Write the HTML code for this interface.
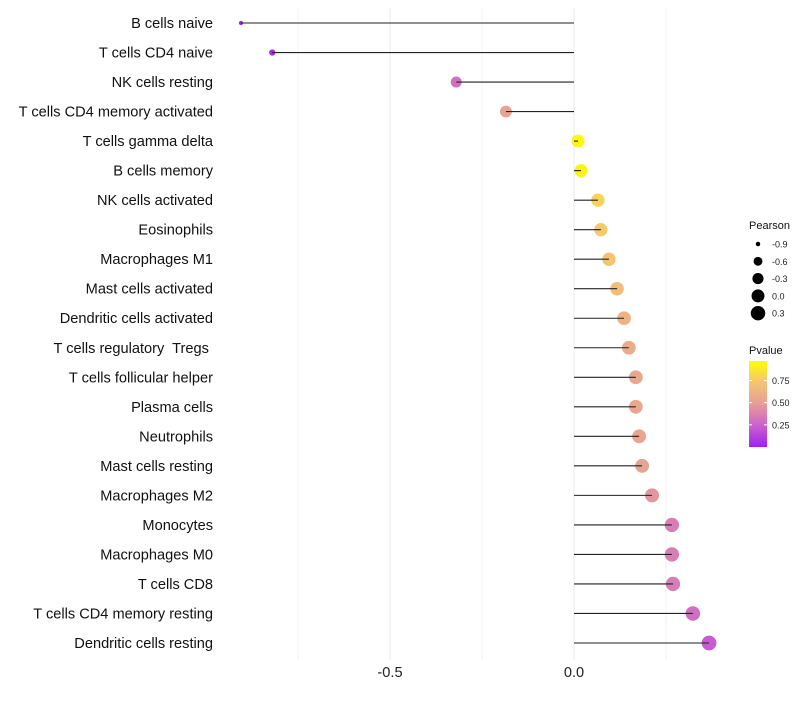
<!DOCTYPE html>
<html><head><meta charset="utf-8"><style>
body{margin:0;background:#fff;font-family:"Liberation Sans",sans-serif}
text{white-space:pre}
</style></head><body>
<svg id="chart" width="800" height="700" xmlns="http://www.w3.org/2000/svg" font-family="Liberation Sans, sans-serif"></svg>
<script>
const categories=["B cells naive","T cells CD4 naive","NK cells resting","T cells CD4 memory activated","T cells gamma delta","B cells memory","NK cells activated","Eosinophils","Macrophages M1","Mast cells activated","Dendritic cells activated","T cells regulatory  Tregs ","T cells follicular helper","Plasma cells","Neutrophils","Mast cells resting","Macrophages M2","Monocytes","Macrophages M0","T cells CD8","T cells CD4 memory resting","Dendritic cells resting"];
const pearson=[-0.905,-0.82,-0.32,-0.185,0.011,0.019,0.065,0.073,0.095,0.117,0.136,0.149,0.168,0.168,0.177,0.185,0.212,0.266,0.266,0.269,0.323,0.367];
const pvalue=[0.02,0.04,0.3,0.52,0.97,0.95,0.8,0.76,0.73,0.68,0.62,0.58,0.55,0.55,0.53,0.52,0.46,0.36,0.36,0.35,0.29,0.22];
const xTicks=[-0.5,0.0];
const xTickLabels=["-0.5","0.0"];
const minorTicks=[-0.75,-0.25,0.25];
const sizeLegendValues=[-0.9,-0.6,-0.3,0.0,0.3];
const colorTicks=[0.75,0.5,0.25];

const svg=document.getElementById('chart');
const NS='http://www.w3.org/2000/svg';
function mk(tag,attrs,parent){const e=document.createElementNS(NS,tag);for(const k in attrs)e.setAttribute(k,attrs[k]);(parent||svg).appendChild(e);return e;}
const x=v=>574+v*368;
const y=i=>23+i*(620/21);
const r=v=>1.5+Math.sqrt(Math.max(0,v+0.92)/1.3)*5.9;
const stops=[[0,[160,32,240]],[0.25,[204,100,204]],[0.5,[230,160,150]],[0.75,[245,200,110]],[1,[255,255,0]]];
function col(p){for(let i=1;i<stops.length;i++){if(p<=stops[i][0]){const a=stops[i-1],b=stops[i],t=(p-a[0])/(b[0]-a[0]);return 'rgb('+a[1].map((c,j)=>Math.round(c+(b[1][j]-c)*t)).join(',')+')';}}return 'rgb(255,255,0)';}

minorTicks.forEach(v=>{const l=mk('line',{x1:x(v),x2:x(v),y1:8,y2:660,stroke:'#f2f2f2','stroke-width':1});});
xTicks.forEach((v,i)=>{const l=mk('line',{x1:x(v),x2:x(v),y1:8,y2:660,stroke:'#ebebeb','stroke-width':1});
const t=mk('text',{x:x(v),y:677,'text-anchor':'middle','font-size':14.6,fill:'#222'});t.textContent=xTickLabels[i];});

categories.forEach((c,i)=>{
const t=mk('text',{x:213,y:y(i)+5,'text-anchor':'end','font-size':14.6,fill:'#111'});t.textContent=c;
const p=mk('circle',{cx:x(pearson[i]),cy:y(i),r:r(pearson[i]),fill:col(pvalue[i])});
const l=mk('line',{x1:x(0),x2:x(pearson[i]),y1:y(i),y2:y(i),stroke:'#222','stroke-width':1.1});
});

let tt=mk('text',{x:749,y:229,'font-size':11,fill:'#111'});tt.textContent='Pearson';
sizeLegendValues.forEach((v,i)=>{const cy=244+i*17.3;const c=mk('circle',{cx:758,cy:cy,r:r(v),fill:'#000'});
const t=mk('text',{x:772,y:cy+3.5,'font-size':9,fill:'#222'});t.textContent=v.toFixed(1);});
tt=mk('text',{x:749,y:354,'font-size':11,fill:'#111'});tt.textContent='Pvalue';
const defs=mk('defs',{});const g=mk('linearGradient',{id:'pg',x1:0,y1:1,x2:0,y2:0},defs);
stops.forEach(s=>mk('stop',{offset:s[0]/0.97>1?1:s[0]/0.97,'stop-color':'rgb('+s[1].join(',')+')'},g));
const bar=mk('rect',{x:749,y:361,width:18,height:86,fill:'url(#pg)'});
const cy=p=>447-p*88.7;
colorTicks.forEach(v=>{mk('line',{x1:749,x2:752,y1:cy(v),y2:cy(v),stroke:'#fff'});mk('line',{x1:764,x2:767,y1:cy(v),y2:cy(v),stroke:'#fff'});
const t=mk('text',{x:772,y:cy(v)+3.5,'font-size':9,fill:'#222'});t.textContent=v.toFixed(2);});
</script>
</body></html>
